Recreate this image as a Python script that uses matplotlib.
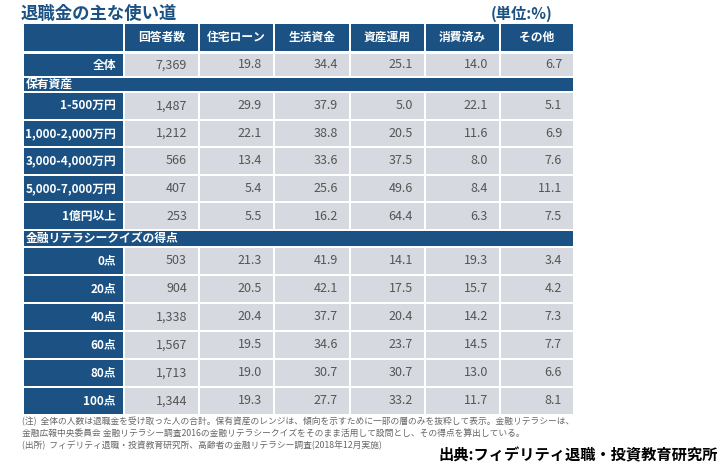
import matplotlib
matplotlib.use("Agg")
import matplotlib.pyplot as plt
from matplotlib.patches import Rectangle

plt.rcParams["font.family"] = ["Noto Sans CJK JP", "DejaVu Sans"]

columns = ["回答者数", "住宅ローン", "生活資金", "資産運用", "消費済み", "その他"]
total_label = "全体"
total_values = ["7,369", "19.8", "34.4", "25.1", "14.0", "6.7"]

asset_title = "保有資産"
asset_labels = ["1-500万円", "1,000-2,000万円", "3,000-4,000万円", "5,000-7,000万円", "1億円以上"]
asset_values = [
    ["1,487", "29.9", "37.9", "5.0", "22.1", "5.1"],
    ["1,212", "22.1", "38.8", "20.5", "11.6", "6.9"],
    ["566", "13.4", "33.6", "37.5", "8.0", "7.6"],
    ["407", "5.4", "25.6", "49.6", "8.4", "11.1"],
    ["253", "5.5", "16.2", "64.4", "6.3", "7.5"],
]

quiz_title = "金融リテラシークイズの得点"
quiz_labels = ["0点", "20点", "40点", "60点", "80点", "100点"]
quiz_values = [
    ["503", "21.3", "41.9", "14.1", "19.3", "3.4"],
    ["904", "20.5", "42.1", "17.5", "15.7", "4.2"],
    ["1,338", "20.4", "37.7", "20.4", "14.2", "7.3"],
    ["1,567", "19.5", "34.6", "23.7", "14.5", "7.7"],
    ["1,713", "19.0", "30.7", "30.7", "13.0", "6.6"],
    ["1,344", "19.3", "27.7", "33.2", "11.7", "8.1"],
]

notes = [
    "(注)  全体の人数は退職金を受け取った人の合計。保有資産のレンジは、傾向を示すために一部の層のみを抜粋して表示。金融リテラシーは、",
    "金融広報中央委員会 金融リテラシー調査2016の金融リテラシークイズをそのまま活用して設問とし、その得点を算出している。",
    "(出所)  フィデリティ退職・投資教育研究所、高齢者の金融リテラシー調査(2018年12月実施)",
]

BLUE = "#1c5283"
GRAY = "#d6d9df"
TEXT = "#555555"

fig = plt.figure(figsize=(7.22, 4.69), dpi=100)
ax = fig.add_axes([0, 0, 1, 1])
ax.set_xlim(0, 722)
ax.set_ylim(469, 0)
ax.axis("off")

edges = [23, 124, 199, 274, 350, 425, 500, 574]
g = 1.0


def cell(x0, x1, y0, y1, color):
    ax.add_patch(Rectangle((x0 + g, y0 + g), x1 - x0 - 2 * g, y1 - y0 - 2 * g,
                           color=color, lw=0))


def data_row(y0, y1, label, vals):
    cell(edges[0], edges[1], y0, y1, BLUE)
    ax.text(edges[1] - 8, (y0 + y1) / 2, label, ha="right", va="center",
            color="white", fontsize=8.5, fontweight="bold")
    for i, v in enumerate(vals):
        cell(edges[i + 1], edges[i + 2], y0, y1, GRAY)
        ax.text(edges[i + 2] - 12, (y0 + y1) / 2, v, ha="right", va="center",
                color=TEXT, fontsize=9)


def band(y0, y1, title):
    cell(edges[0], edges[-1], y0, y1, BLUE)
    ax.text(edges[0] + 3, (y0 + y1) / 2, title, ha="left", va="center",
            color="white", fontsize=8.5, fontweight="bold")


ax.text(21, 14, "退職金の主な使い道", ha="left", va="center", color=BLUE,
        fontsize=12.5, fontweight="bold")
ax.text(552, 14, "(単位:%)", ha="right", va="center", color=BLUE,
        fontsize=11, fontweight="bold")

# header
cell(edges[0], edges[1], 23, 52, BLUE)
for i, c in enumerate(columns):
    cell(edges[i + 1], edges[i + 2], 23, 52, BLUE)
    ax.text((edges[i + 1] + edges[i + 2]) / 2, 37.5, c, ha="center", va="center",
            color="white", fontsize=8.5, fontweight="bold")

data_row(53, 77, total_label, total_values)
band(77, 92, asset_title)
h = (230 - 92) / len(asset_labels)
for k, (lab, vals) in enumerate(zip(asset_labels, asset_values)):
    data_row(92 + k * h, 92 + (k + 1) * h, lab, vals)
band(230, 247, quiz_title)
h = 28
for k, (lab, vals) in enumerate(zip(quiz_labels, quiz_values)):
    data_row(247 + k * h, 247 + (k + 1) * h, lab, vals)

for k, n in enumerate(notes):
    ax.text(22, 422 + k * 11.5, n, ha="left", va="center", color="#666666",
            fontsize=6.3)

ax.text(718, 455, "出典:フィデリティ退職・投資教育研究所", ha="right", va="center",
        color="black", fontsize=11, fontweight="bold")

fig.savefig("out.png", dpi=100)
